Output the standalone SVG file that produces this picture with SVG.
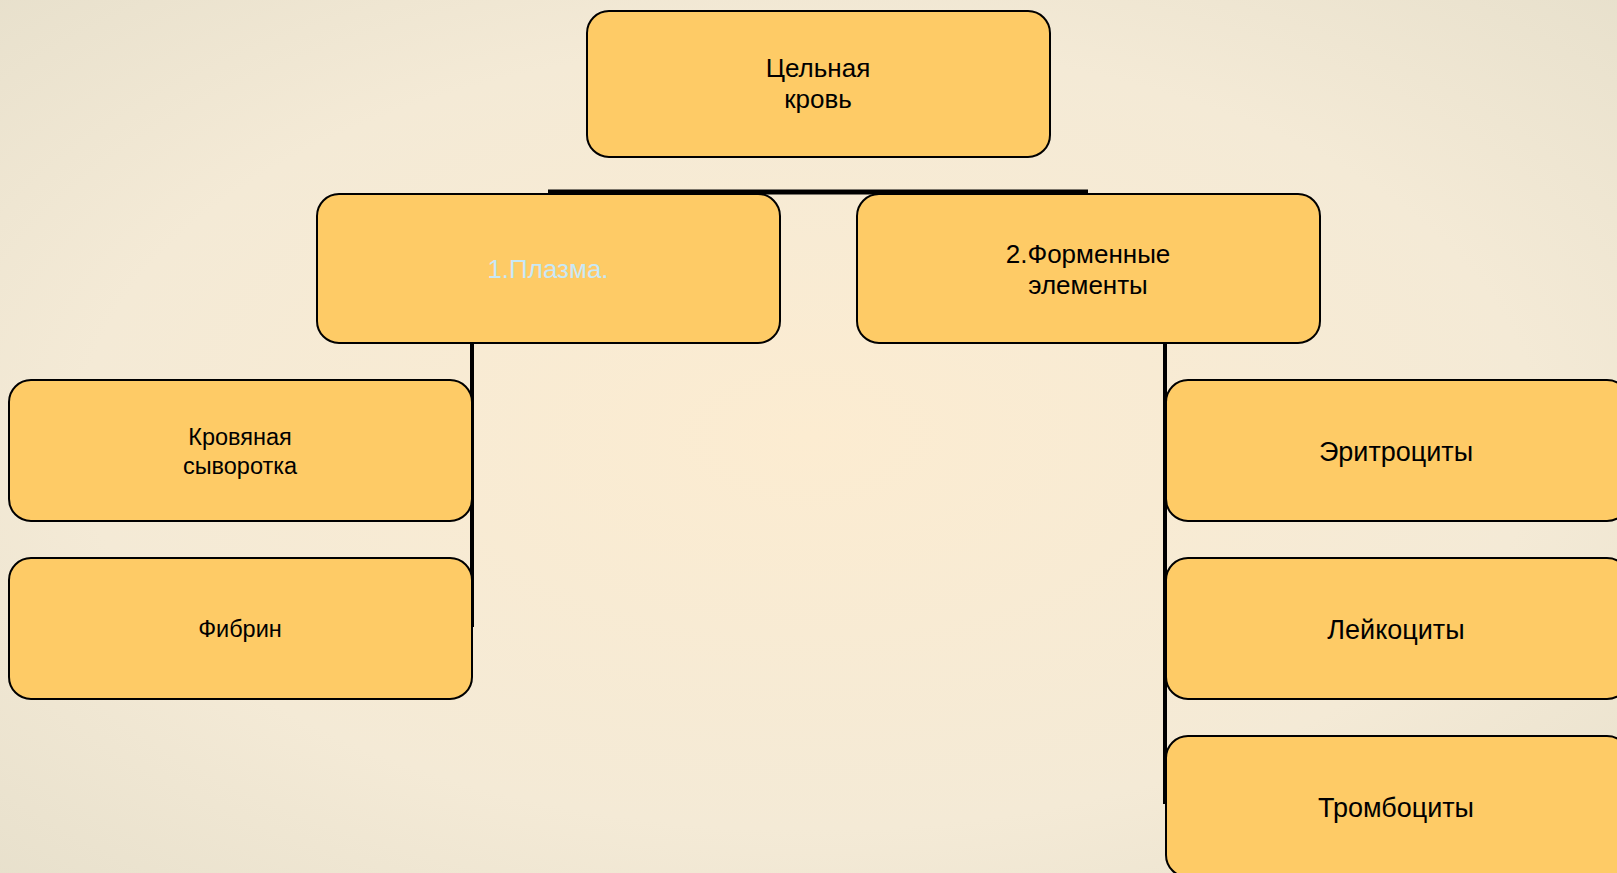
<svg xmlns="http://www.w3.org/2000/svg" width="1617" height="873" viewBox="0 0 1617 873">
<defs>
<radialGradient id="bg" cx="50%" cy="50%" r="75%">
<stop offset="0" stop-color="#fcecd1"/>
<stop offset="0.6" stop-color="#f4ead6"/>
<stop offset="1" stop-color="#e6dfcb"/>
</radialGradient>
<style>
.box{fill:#fecb66;stroke:#000;stroke-width:2}
.t{font-family:"Liberation Sans",Arial,sans-serif;fill:#000;text-anchor:middle}
.conn{stroke:#000;fill:none}
</style>
</defs>
<rect width="1617" height="873" fill="url(#bg)"/>
<g id="connectors">
<line class="conn" x1="548" y1="192" x2="1088" y2="192" stroke-width="5"/>
<line class="conn" x1="472" y1="342" x2="472" y2="627" stroke-width="4"/>
<line class="conn" x1="1165" y1="342" x2="1165" y2="804" stroke-width="4"/>
</g>
<g id="node-whole-blood">
<rect class="box" x="587" y="11" width="463" height="146" rx="22"/>
<text class="t" font-size="26" x="818" y="77">Цельная</text>
<text class="t" font-size="26" x="818" y="108">кровь</text>
</g>
<g id="node-plasma">
<rect class="box" x="317" y="194" width="463" height="149" rx="22"/>
<text class="t" font-size="26" x="548" y="278" style="fill:#c8e8f6">1.Плазма.</text>
</g>
<g id="node-formed">
<rect class="box" x="857" y="194" width="463" height="149" rx="22"/>
<text class="t" font-size="26" x="1088" y="263">2.Форменные</text>
<text class="t" font-size="26" x="1088" y="294">элементы</text>
</g>
<g id="node-serum">
<rect class="box" x="9" y="380" width="463" height="141" rx="22"/>
<text class="t" font-size="23.5" x="240" y="445">Кровяная</text>
<text class="t" font-size="23.5" x="240" y="474">сыворотка</text>
</g>
<g id="node-fibrin">
<rect class="box" x="9" y="558" width="463" height="141" rx="22"/>
<text class="t" font-size="23.5" x="240" y="637">Фибрин</text>
</g>
<g id="node-erythrocytes">
<rect class="box" x="1166" y="380" width="463" height="141" rx="22"/>
<text class="t" font-size="27" x="1396" y="461">Эритроциты</text>
</g>
<g id="node-leukocytes">
<rect class="box" x="1166" y="558" width="463" height="141" rx="22"/>
<text class="t" font-size="27" x="1396" y="639">Лейкоциты</text>
</g>
<g id="node-thrombocytes">
<rect class="box" x="1166" y="736" width="463" height="141" rx="22"/>
<text class="t" font-size="27" x="1396" y="817">Тромбоциты</text>
</g>
</svg>
